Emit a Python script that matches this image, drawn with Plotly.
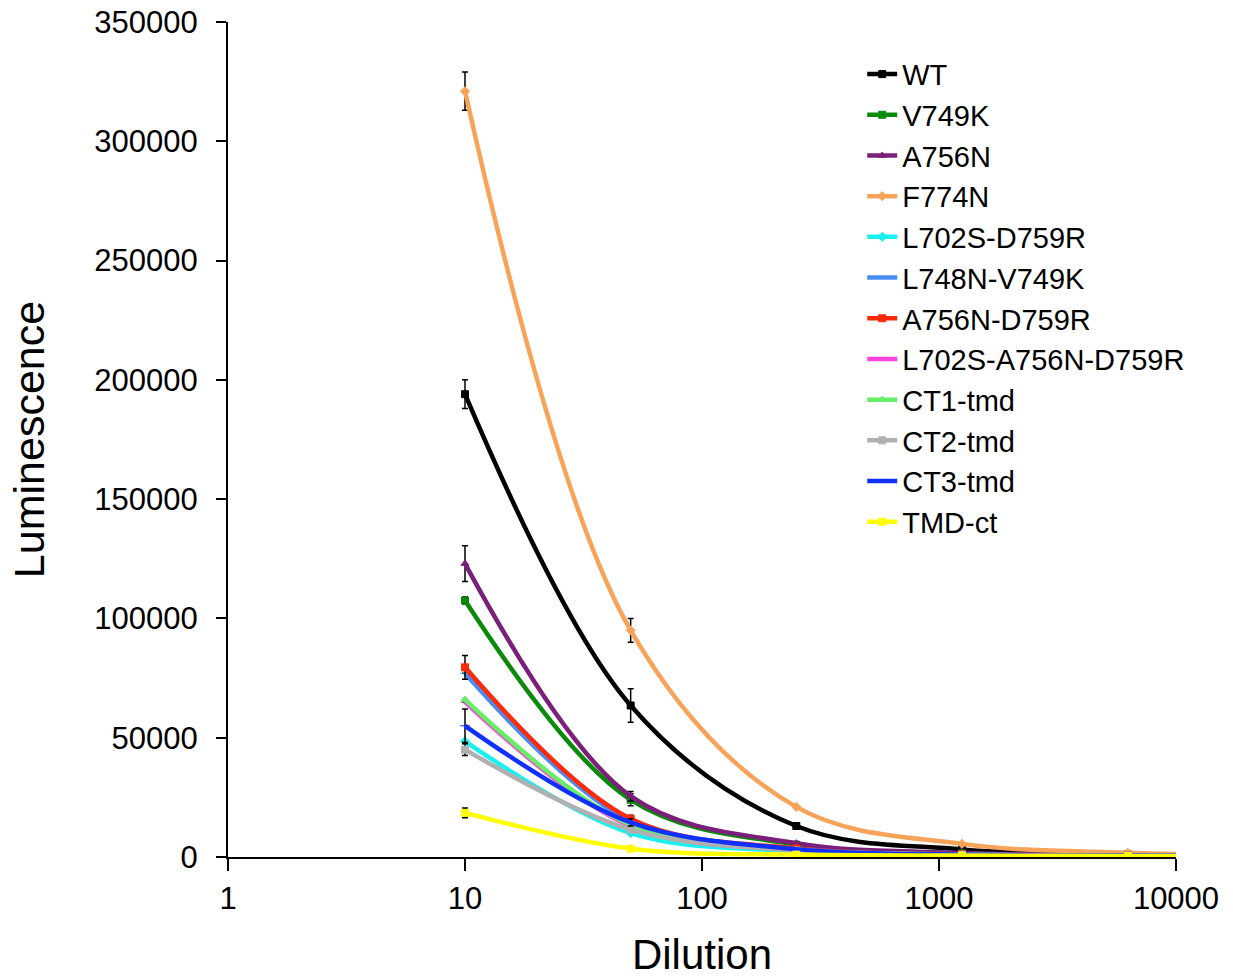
import plotly.graph_objects as go

# Dilution series (the last point lies past the axis end so curves run to the edge)
dilution = [10, 50, 250, 1250, 6250, 31250]

names = ["WT", "V749K", "A756N", "F774N", "L702S-D759R", "L748N-V749K",
         "A756N-D759R", "L702S-A756N-D759R", "CT1-tmd", "CT2-tmd", "CT3-tmd", "TMD-ct"]

wt = [194000, 63500, 13000, 3200, 1200, 600]
v749k = [107500, 24000, 5200, 1500, 800, 500]
a756n = [123000, 25500, 5800, 1700, 900, 500]
f774n = [321000, 95000, 21000, 5500, 1800, 800]
l702s_d759r = [48500, 10000, 2500, 900, 600, 400]
l748n_v749k = [77000, 15000, 3500, 1100, 600, 400]
a756n_d759r = [79500, 16000, 3600, 1100, 600, 400]
l702s_a756n_d759r = [65000, 13000, 3000, 1000, 600, 400]
ct1_tmd = [66000, 13500, 3100, 1000, 600, 400]
ct2_tmd = [45000, 11500, 2700, 900, 600, 400]
ct3_tmd = [55000, 14500, 3300, 1000, 600, 400]
tmd_ct = [18500, 3500, 1000, 600, 400, 300]

# Standard deviations (None where no bar is shown)
wt_err = [6000, 7000, 1200, None, None, None]
v749k_err = [1500, 2500, None, None, None, None]
a756n_err = [7500, 2000, None, None, None, None]
f774n_err = [8000, 5000, None, None, None, None]
l702s_d759r_err = [None, None, None, None, None, None]
l748n_v749k_err = [None, None, None, None, None, None]
a756n_d759r_err = [5000, 1500, None, None, None, None]
l702s_a756n_d759r_err = [None, None, None, None, None, None]
ct1_tmd_err = [None, None, None, None, None, None]
ct2_tmd_err = [2500, None, None, None, None, None]
ct3_tmd_err = [7000, 1500, None, None, None, None]
tmd_ct_err = [2000, 1000, None, None, None, None]

y_ticks = [0, 50000, 100000, 150000, 200000, 250000, 300000, 350000]
x_ticks = [1, 10, 100, 1000, 10000]

values = [wt, v749k, a756n, f774n, l702s_d759r, l748n_v749k,
          a756n_d759r, l702s_a756n_d759r, ct1_tmd, ct2_tmd, ct3_tmd, tmd_ct]
errors = [wt_err, v749k_err, a756n_err, f774n_err, l702s_d759r_err, l748n_v749k_err,
          a756n_d759r_err, l702s_a756n_d759r_err, ct1_tmd_err, ct2_tmd_err, ct3_tmd_err, tmd_ct_err]

colors = ["#000000", "#0a8a0a", "#7a1f7a", "#f7a45a", "#19f0f0", "#4a8cf0",
          "#ff2a0a", "#ff44dd", "#66ee66", "#b0b0b0", "#1030ff", "#ffff00"]
symbols = ["square", "square", "triangle-up", "diamond", "diamond", "line-ew",
           "square", "line-ew", "triangle-up", "square", "line-ew", "square"]

FONT = "Liberation Sans, Arial, sans-serif"

fig = go.Figure()
for name, ys, err, col, sym in zip(names, values, errors, colors, symbols):
    fig.add_trace(go.Scatter(
        x=dilution, y=ys, name=name, mode="lines+markers",
        line=dict(color=col, width=4.5, shape="spline", smoothing=1.0),
        marker=dict(symbol=sym, size=7, color=col, line=dict(color=col, width=1)),
        error_y=dict(type="data", array=err, visible=True, color="#000000",
                     thickness=1.5, width=3),
    ))

fig.update_layout(
    width=1233, height=979,
    paper_bgcolor="white", plot_bgcolor="white",
    margin=dict(l=228, r=57, t=22, b=122),
    font=dict(family=FONT, size=31, color="#000000"),
    showlegend=True,
    legend=dict(x=0.669, y=0.968, xanchor="left", yanchor="top",
                font=dict(size=29, family=FONT), bgcolor="rgba(0,0,0,0)",
                tracegroupgap=0, itemwidth=30),
)
fig.update_xaxes(
    type="log", range=[0, 4], automargin=False,
    tickvals=x_ticks, ticktext=[str(v) for v in x_ticks],
    showgrid=False, zeroline=False, showline=True, linecolor="#000000", linewidth=2,
    ticks="outside", ticklen=12, tickwidth=2, tickcolor="#000000",
    tickfont=dict(size=31), ticklabelstandoff=1,
    title=dict(text="Dilution", font=dict(size=42), standoff=24),
)
fig.update_yaxes(
    range=[0, 350000], automargin=False,
    tickvals=y_ticks, ticktext=[str(v) for v in y_ticks],
    showgrid=False, zeroline=False, showline=True, linecolor="#000000", linewidth=2,
    ticks="outside", ticklen=10, tickwidth=2, tickcolor="#000000",
    tickfont=dict(size=31), ticklabelstandoff=12,
    title=dict(text="Luminescence", font=dict(size=43), standoff=36),
)

fig.write_html("out.html")
